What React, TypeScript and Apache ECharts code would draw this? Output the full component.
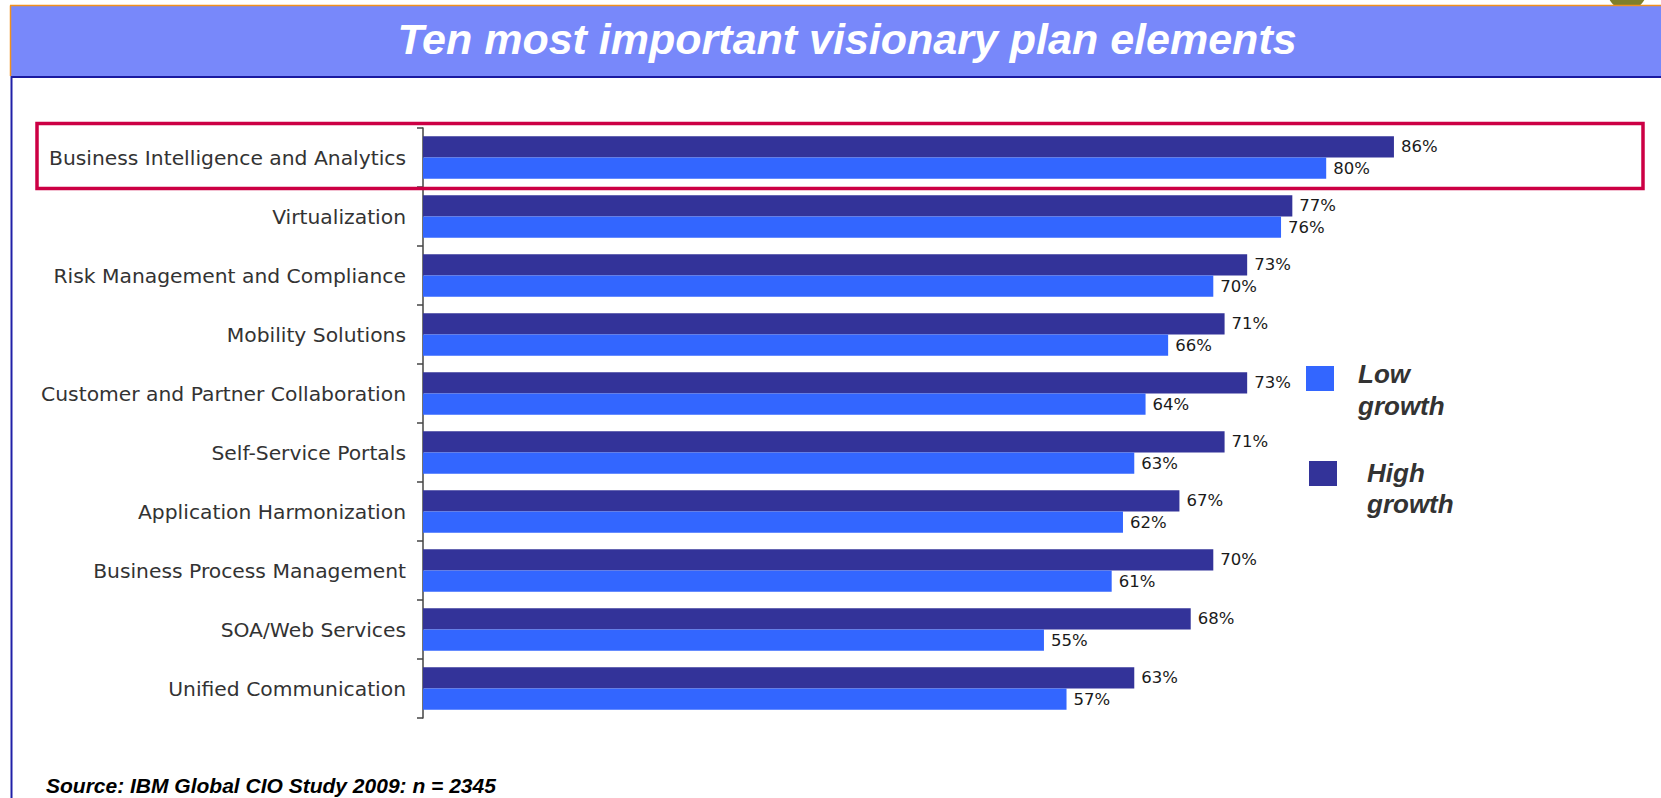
import React, { useEffect, useRef } from "react";
import * as echarts from "echarts";

const categories = [
  "Business Intelligence and Analytics",
  "Virtualization",
  "Risk Management and Compliance",
  "Mobility Solutions",
  "Customer and Partner Collaboration",
  "Self-Service Portals",
  "Application Harmonization",
  "Business Process Management",
  "SOA/Web Services",
  "Unified Communication",
];
const highGrowth = [86, 77, 73, 71, 73, 71, 67, 70, 68, 63];
const lowGrowth = [80, 76, 70, 66, 64, 63, 62, 61, 55, 57];
const seriesNames = ["High growth", "Low growth"];
const titleText = "Ten most important visionary plan elements";
const sourceText = "Source: IBM Global CIO Study 2009: n = 2345";

const DARK = "#333399";
const LIGHT = "#3366FF";

export default function App() {
  const ref = useRef<HTMLDivElement>(null);
  useEffect(() => {
    document.body.style.margin = "0";
    document.body.style.overflow = "hidden";
    const chart = echarts.init(ref.current!, null, { renderer: "svg" });
    const labelStyle = {
      show: true,
      position: "right" as const,
      distance: 7,
      formatter: "{c}%",
      fontFamily: "DejaVu Sans",
      fontSize: 16.5,
      color: "#1a1a1a",
    };
    chart.setOption({
      animation: false,
      backgroundColor: "#ffffff",
      grid: { left: 423, top: 128, width: 1129, height: 590, containLabel: false },
      xAxis: {
        type: "value",
        min: 0,
        max: 100,
        show: false,
      },
      yAxis: {
        type: "category",
        inverse: true,
        data: categories,
        axisLine: { show: true, lineStyle: { color: "#444444", width: 1.5 } },
        axisTick: { show: true, length: 6, lineStyle: { color: "#444444", width: 1.5 } },
        axisLabel: {
          margin: 17,
          fontFamily: "DejaVu Sans",
          fontSize: 20.3,
          color: "#333333",
          padding: [0, 0, 5, 0],
        },
        splitLine: { show: false },
      },
      series: [
        {
          name: seriesNames[0],
          type: "bar",
          data: highGrowth,
          itemStyle: { color: DARK },
          barGap: "0%",
          barCategoryGap: "28%",
          label: labelStyle,
        },
        {
          name: seriesNames[1],
          type: "bar",
          data: lowGrowth,
          itemStyle: { color: LIGHT },
          barGap: "0%",
          barCategoryGap: "28%",
          label: labelStyle,
        },
      ],
      graphic: [
        { type: "circle", shape: { cx: 1627, cy: -10, r: 20 }, style: { fill: "#7f7f2a" }, z: 1 },
        { type: "rect", shape: { x: 11, y: 6, width: 1660, height: 70 }, style: { fill: "#7888FA" }, z: 2 },
        { type: "line", shape: { x1: 10, y1: 5.5, x2: 1661, y2: 5.5 }, style: { stroke: "#F0901E", lineWidth: 1.5 }, z: 3 },
        { type: "line", shape: { x1: 10.5, y1: 5.5, x2: 10.5, y2: 76 }, style: { stroke: "#F0901E", lineWidth: 1.5 }, z: 3 },
        { type: "line", shape: { x1: 11, y1: 77, x2: 1661, y2: 77 }, style: { stroke: "#1a1aa0", lineWidth: 2 }, z: 3 },
        { type: "line", shape: { x1: 11.5, y1: 76, x2: 11.5, y2: 798 }, style: { stroke: "#2020A8", lineWidth: 2 }, z: 3 },
        {
          type: "text",
          x: 847,
          y: 39,
          style: {
            text: titleText,
            fontFamily: "Liberation Sans",
            fontSize: 43,
            fontWeight: "bold",
            fontStyle: "italic",
            fill: "#ffffff",
            align: "center",
            verticalAlign: "middle",
          },
          z: 4,
        },
        {
          type: "rect",
          shape: { x: 37, y: 123.5, width: 1606, height: 65 },
          style: { fill: "none", stroke: "#CC0044", lineWidth: 3.5 },
          z: 10,
        },
        { type: "rect", shape: { x: 1306, y: 366, width: 28, height: 25 }, style: { fill: LIGHT }, z: 5 },
        { type: "rect", shape: { x: 1309, y: 461, width: 28, height: 25 }, style: { fill: DARK }, z: 5 },
        {
          type: "text",
          x: 1358,
          y: 374,
          style: { text: "Low", fontFamily: "Liberation Sans", fontSize: 26, fontWeight: "bold", fontStyle: "italic", fill: "#333333", align: "left", verticalAlign: "middle" },
          z: 5,
        },
        {
          type: "text",
          x: 1358,
          y: 406,
          style: { text: "growth", fontFamily: "Liberation Sans", fontSize: 26, fontWeight: "bold", fontStyle: "italic", fill: "#333333", align: "left", verticalAlign: "middle" },
          z: 5,
        },
        {
          type: "text",
          x: 1367,
          y: 472.5,
          style: { text: "High", fontFamily: "Liberation Sans", fontSize: 26, fontWeight: "bold", fontStyle: "italic", fill: "#333333", align: "left", verticalAlign: "middle" },
          z: 5,
        },
        {
          type: "text",
          x: 1367,
          y: 504,
          style: { text: "growth", fontFamily: "Liberation Sans", fontSize: 26, fontWeight: "bold", fontStyle: "italic", fill: "#333333", align: "left", verticalAlign: "middle" },
          z: 5,
        },
        {
          type: "text",
          x: 46,
          y: 785,
          style: { text: sourceText, fontFamily: "Liberation Sans", fontSize: 21, fontWeight: "bold", fontStyle: "italic", fill: "#000000", align: "left", verticalAlign: "middle" },
          z: 5,
        },
      ],
    });
    return () => chart.dispose();
  }, []);
  return (
    <div
      ref={ref}
      style={{ position: "absolute", left: 0, top: 0, width: 1661, height: 798 }}
    />
  );
}
